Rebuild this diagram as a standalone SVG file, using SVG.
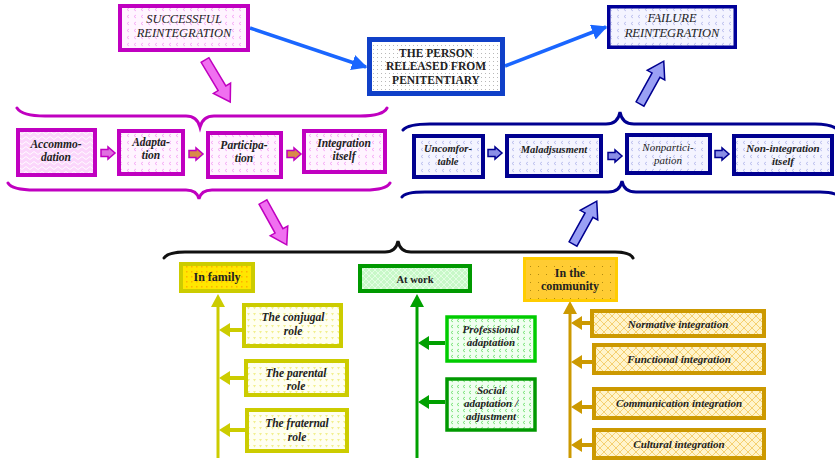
<svg xmlns="http://www.w3.org/2000/svg" width="835" height="462" viewBox="0 0 835 462">
<style>
text{font-family:'Liberation Serif','DejaVu Serif',serif}
.t{fill:#222;text-anchor:middle}
.i{font-style:italic}
.b{font-weight:bold}
.mg{fill:url(#pPink);stroke:#c000c0;stroke-width:4}
.bl{fill:url(#pBlue);stroke:#000090;stroke-width:4}
.fam{fill:url(#pYel);stroke:#cccc00;stroke-width:4}
.com{fill:url(#pCross);stroke:#cc9900;stroke-width:4}
.brace{fill:none;stroke-width:3;stroke-linecap:round}
</style>
<defs>
<pattern id="pPink" width="7" height="7" patternUnits="userSpaceOnUse"><rect width="7" height="7" fill="#fff4ff"/><path d="M3,1 l-2,1.5 l2,1.5" fill="none" stroke="#f49af4" stroke-width="0.8"/></pattern>
<pattern id="pWave" width="8" height="5" patternUnits="userSpaceOnUse"><rect width="8" height="5" fill="#fbd6fb"/><path d="M0,3 q2,-3 4,0 t4,0" fill="none" stroke="#ffffff" stroke-width="0.9"/></pattern>
<pattern id="pBlue" width="7" height="7" patternUnits="userSpaceOnUse"><rect width="7" height="7" fill="#f4f4ff"/><path d="M3,1 l-2,1.5 l2,1.5" fill="none" stroke="#b0b4ea" stroke-width="0.8"/></pattern>
<pattern id="pGray" width="4" height="4" patternUnits="userSpaceOnUse"><rect width="4" height="4" fill="#ffffff"/><rect x="1" y="1" width="1" height="1" fill="#b8b8b8"/></pattern>
<pattern id="pYelH" width="5" height="5" patternUnits="userSpaceOnUse"><rect width="5" height="5" fill="#ffe600"/><rect x="1" y="1" width="1.5" height="1.5" fill="#ffb000"/></pattern>
<pattern id="pYel" width="6" height="6" patternUnits="userSpaceOnUse"><rect width="6" height="6" fill="#fffff0"/><path d="M1,1 l3,0 l-1.5,2.5 z" fill="#f2f090"/></pattern>
<pattern id="pGreen" width="6" height="6" patternUnits="userSpaceOnUse"><rect width="6" height="6" fill="#f0fff0"/><path d="M3,1 l-2,1.5 l2,1.5" fill="none" stroke="#70e070" stroke-width="0.9"/></pattern>
<pattern id="pGreenH" width="6" height="6" patternUnits="userSpaceOnUse"><rect width="6" height="6" fill="#c8f8c8"/><path d="M0,3 l3,-3 l3,3 l-3,3 z" fill="none" stroke="#eaffea" stroke-width="0.8"/></pattern>
<pattern id="pGold" width="8" height="8" patternUnits="userSpaceOnUse"><rect width="8" height="8" fill="#ffcc33"/><rect x="2" y="2" width="1" height="1" fill="#b08a10"/></pattern>
<pattern id="pCross" width="8" height="8" patternUnits="userSpaceOnUse"><rect width="8" height="8" fill="#fff4cc"/><path d="M0,0 L8,8 M8,0 L0,8" stroke="#f5d070" stroke-width="1"/></pattern>
<marker id="mBlue" viewBox="0 0 10 10" refX="9" refY="5" markerWidth="4.5" markerHeight="4.5" orient="auto"><path d="M0,0 L10,5 L0,10 z" fill="#1a66ff"/></marker>
<path id="fat" d="M0,-4.5 L33,-4.5 L33,-10 L49,0 L33,10 L33,4.5 L0,4.5 Z"/>
<path id="small" d="M0,-3.5 L7,-3.5 L7,-6 L14,0 L7,6 L7,3.5 L0,3.5 Z"/>
</defs>

<g id="connectors">
<line x1="250" y1="28" x2="366" y2="67" stroke="#1a66ff" stroke-width="3.5" marker-end="url(#mBlue)"/>
<line x1="505" y1="66" x2="606" y2="27" stroke="#1a66ff" stroke-width="3.5" marker-end="url(#mBlue)"/>
<use href="#fat" transform="translate(205,60) rotate(59)" fill="#f070f0" stroke="#c000c0" stroke-width="1.5"/>
<use href="#fat" transform="translate(263,202) rotate(61)" fill="#f070f0" stroke="#c000c0" stroke-width="1.5"/>
<use href="#fat" transform="translate(640,104) rotate(-61)" fill="#9aa0f4" stroke="#000090" stroke-width="1.5"/>
<use href="#fat" transform="translate(573,244) rotate(-61)" fill="#9aa0f4" stroke="#000090" stroke-width="1.5"/>
<use href="#small" transform="translate(101,153)" fill="#e070e0" stroke="#c000c0" stroke-width="1.5"/>
<use href="#small" transform="translate(189,154)" fill="#d88a4a" stroke="#c000c0" stroke-width="1.5"/>
<use href="#small" transform="translate(287,154)" fill="#d88a4a" stroke="#c000c0" stroke-width="1.5"/>
<use href="#small" transform="translate(488,153)" fill="#8a8ee6" stroke="#000090" stroke-width="1.5"/>
<use href="#small" transform="translate(608,156)" fill="#8a8ee6" stroke="#000090" stroke-width="1.5"/>
<use href="#small" transform="translate(715,154)" fill="#8a8ee6" stroke="#000090" stroke-width="1.5"/>
<path class="brace" stroke="#c000c0" d="M17,108 Q22,116 45,116 L186,116 Q197,116 200,127 Q203,116 214,116 L360,116 Q383,116 387,108"/>
<path class="brace" stroke="#c000c0" d="M8,183 Q12,190 35,190 L186,190 Q197,190 199,199 Q201,190 212,190 L365,190 Q386,190 390,183"/>
<path class="brace" stroke="#000090" d="M403,130 Q408,124 430,124 L606,124 Q618,124 620,112 Q622,124 634,124 L815,124 Q832,124 838,130"/>
<path class="brace" stroke="#000090" d="M402,197 Q405,192 425,192 L608,192 Q620,192 622,181 Q624,192 636,192 L820,192 Q835,192 840,197"/>
<path class="brace" stroke="#111" stroke-width="3.5" d="M164,258 Q168,252 185,252 L385,252 Q396,252 398,241 Q400,252 411,252 L615,252 Q630,252 633,258"/>
<g stroke="#cccc00" fill="#cccc00">
<line x1="218" y1="305" x2="218" y2="458" stroke-width="3"/>
<polygon points="211,307 218,294 225,307" stroke="none"/>
<line x1="242" y1="330" x2="228" y2="330" stroke-width="4"/><polygon points="219,330 230,323 230,337" stroke="none"/>
<line x1="244" y1="378" x2="228" y2="378" stroke-width="4"/><polygon points="219,378 230,371 230,385" stroke="none"/>
<line x1="245" y1="430" x2="228" y2="430" stroke-width="4"/><polygon points="219,430 230,423 230,437" stroke="none"/>
</g>
<g stroke="#00a000" fill="#00a000">
<line x1="417" y1="305" x2="417" y2="458" stroke-width="3"/>
<polygon points="410,307 417,294 424,307" stroke="none"/>
<line x1="445" y1="343" x2="427" y2="343" stroke-width="4"/><polygon points="418,343 429,336 429,350" stroke="none"/>
<line x1="445" y1="402" x2="427" y2="402" stroke-width="4"/><polygon points="418,402 429,395 429,409" stroke="none"/>
</g>
<g stroke="#cc9900" fill="#cc9900">
<line x1="570" y1="312" x2="570" y2="458" stroke-width="3"/>
<polygon points="563,314 570,301 577,314" stroke="none"/>
<line x1="590" y1="323" x2="580" y2="323" stroke-width="4"/><polygon points="571,323 582,316 582,330" stroke="none"/>
<line x1="592" y1="362" x2="580" y2="362" stroke-width="4"/><polygon points="571,362 582,355 582,369" stroke="none"/>
<line x1="592" y1="407" x2="580" y2="407" stroke-width="4"/><polygon points="571,407 582,400 582,414" stroke="none"/>
<line x1="592" y1="445" x2="580" y2="445" stroke-width="4"/><polygon points="571,445 582,438 582,452" stroke="none"/>
</g>
</g>

<g id="successful"><rect x="120" y="6" width="128" height="44" class="mg"/><text class="t i" font-size="12.5" x="184" y="23">SUCCESSFUL</text><text class="t i" font-size="12.5" x="184" y="37">REINTEGRATION</text></g>
<g id="person"><rect x="369.5" y="39.5" width="133" height="54" fill="url(#pGray)" stroke="#1040c8" stroke-width="5"/><text class="t b" font-size="11.5" x="436" y="57">THE PERSON</text><text class="t b" font-size="11.5" x="436" y="70">RELEASED FROM</text><text class="t b" font-size="11.5" x="436" y="84">PENITENTIARY</text></g>
<g id="failure"><rect x="608.75" y="6.75" width="126.5" height="40.5" fill="url(#pBlue)" stroke="#000099" stroke-width="3.5"/><text class="t i" font-size="12.5" x="672" y="22">FAILURE</text><text class="t i" font-size="12.5" x="672" y="37">REINTEGRATION</text></g>

<g id="accommodation"><rect x="18" y="130" width="77" height="45" fill="url(#pWave)" stroke="#c000c0" stroke-width="4"/><text class="t i b" font-size="11.5" x="56" y="148">Accommo-</text><text class="t i b" font-size="11.5" x="56" y="161">dation</text></g>
<g id="adaptation"><rect x="119" y="131" width="64" height="43" class="mg"/><text class="t i b" font-size="11.5" x="151" y="146">Adapta-</text><text class="t i b" font-size="11.5" x="151" y="159">tion</text></g>
<g id="participation"><rect x="208" y="133" width="73" height="44" class="mg"/><text class="t i b" font-size="11.5" x="244" y="149">Participa-</text><text class="t i b" font-size="11.5" x="244" y="162">tion</text></g>
<g id="integration"><rect x="304" y="131" width="81" height="41" class="mg"/><text class="t i b" font-size="11.5" x="344" y="147">Integration</text><text class="t i b" font-size="11.5" x="344" y="160">itself</text></g>

<g id="uncomfortable"><rect x="414" y="136" width="69" height="41" class="bl"/><text class="t i b" font-size="10.5" x="448" y="152">Uncomfor-</text><text class="t i b" font-size="10.5" x="448" y="165">table</text></g>
<g id="maladjustment"><rect x="507" y="136" width="94" height="40" class="bl"/><text class="t i b" font-size="10.5" x="554" y="153">Maladjsusment</text></g>
<g id="nonparticipation"><rect x="627" y="135" width="83" height="38" class="bl"/><text class="t i" font-size="11" x="668" y="151">Nonpartici-</text><text class="t i" font-size="11" x="668" y="164">pation</text></g>
<g id="nonintegration"><rect x="734" y="136" width="98" height="38" class="bl"/><text class="t i b" font-size="11" x="783" y="152">Non-integration</text><text class="t i b" font-size="11" x="783" y="165">itself</text></g>

<g id="family"><rect x="181" y="264" width="72" height="27" fill="url(#pYelH)" stroke="#cccc00" stroke-width="4"/><text class="t b" font-size="12" x="217" y="281">In family</text></g>
<g id="work"><rect x="360" y="266" width="110" height="25" fill="url(#pGreenH)" stroke="#009900" stroke-width="4"/><text class="t b" font-size="10.5" x="415" y="283">At work</text></g>
<g id="community"><rect x="524.5" y="258.5" width="92" height="42" fill="url(#pGold)" stroke="#ffcc00" stroke-width="3"/><text class="t b" font-size="12" x="570" y="277">In the</text><text class="t b" font-size="12" x="570" y="290">community</text></g>

<g id="conjugal"><rect x="244" y="305" width="97" height="41" class="fam"/><text class="t i b" font-size="11.5" x="293" y="321">The conjugal</text><text class="t i b" font-size="11.5" x="293" y="335">role</text></g>
<g id="parental"><rect x="246" y="361" width="101" height="34" class="fam"/><text class="t i b" font-size="11.5" x="296" y="377">The parental</text><text class="t i b" font-size="11.5" x="296" y="390">role</text></g>
<g id="fraternal"><rect x="247" y="410" width="100" height="41" class="fam"/><text class="t i b" font-size="11.5" x="297" y="427">The fraternal</text><text class="t i b" font-size="11.5" x="297" y="441">role</text></g>

<g id="professional"><rect x="447" y="317" width="88" height="44" fill="url(#pGreen)" stroke="#00cc00" stroke-width="3.5"/><text class="t i b" font-size="11" x="491" y="333">Professional</text><text class="t i b" font-size="11" x="491" y="346">adaptation</text></g>
<g id="social"><rect x="447" y="379" width="88" height="51" fill="url(#pGreen)" stroke="#009900" stroke-width="3.5"/><text class="t i b" font-size="11" x="491" y="394">Social</text><text class="t i b" font-size="11" x="491" y="407">adaptation /</text><text class="t i b" font-size="11" x="491" y="420">adjustment</text></g>

<g id="normative"><rect x="592" y="311" width="172" height="25" class="com"/><text class="t i b" font-size="11" x="678" y="328">Normative integration</text></g>
<g id="functional"><rect x="594" y="345" width="170" height="28" class="com"/><text class="t i b" font-size="11" x="679" y="363">Functional integration</text></g>
<g id="communication"><rect x="594" y="389" width="170" height="29" class="com"/><text class="t i b" font-size="11" x="679" y="407">Communication integration</text></g>
<g id="cultural"><rect x="594" y="430" width="170" height="28" class="com"/><text class="t i b" font-size="11" x="679" y="448">Cultural integration</text></g>
</svg>
